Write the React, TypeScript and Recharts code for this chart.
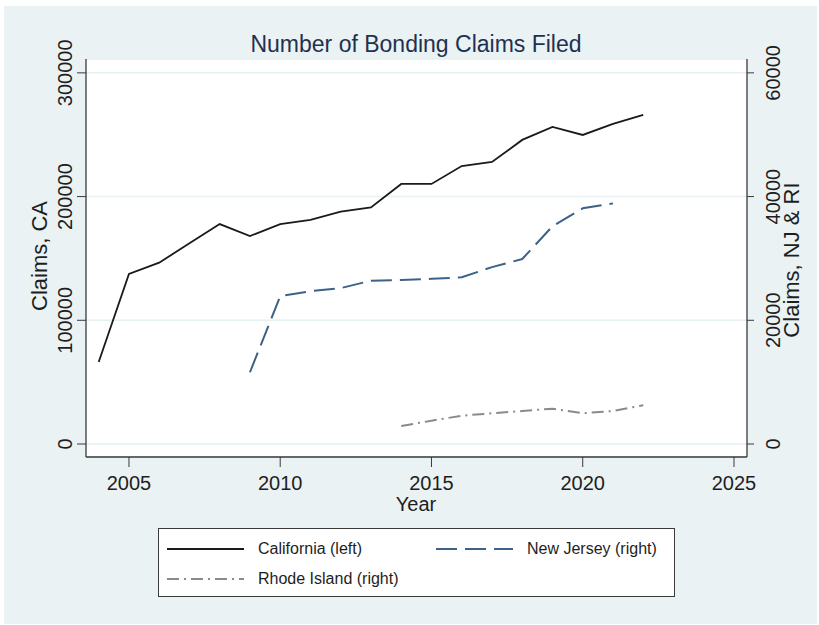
import React from 'react';
import { LineChart, Line, XAxis, YAxis, CartesianGrid } from 'recharts';

// values
const years = [2004, 2005, 2006, 2007, 2008, 2009, 2010, 2011, 2012, 2013, 2014, 2015, 2016, 2017, 2018, 2019, 2020, 2021, 2022];
const californiaClaims = [66300, 137400, 146600, 162200, 177800, 168100, 177800, 181100, 187800, 191300, 210200, 210200, 224700, 228000, 245800, 256300, 249800, 258700, 266000];

const njYears = [2009, 2010, 2011, 2012, 2013, 2014, 2015, 2016, 2017, 2018, 2019, 2020, 2021];
const newJerseyClaims = [11600, 23900, 24700, 25200, 26400, 26500, 26700, 26950, 28600, 29900, 35200, 38100, 38900];

const riYears = [2014, 2015, 2016, 2017, 2018, 2019, 2020, 2021, 2022];
const rhodeIslandClaims = [2900, 3770, 4580, 4970, 5340, 5710, 4970, 5340, 6260];

const xTicks = [2005, 2010, 2015, 2020, 2025];
const leftTicks = [0, 100000, 200000, 300000];
const rightTicks = [0, 20000, 40000, 60000];

const FONT = '"Liberation Sans", Arial, Helvetica, sans-serif';
const BG = '#eaf2f3';
const AXIS = '#3a3a3a';
const TEXT = '#1e1e1e';

const CA_COLOR = '#1a1a1a';
const NJ_COLOR = '#3c6288';
const RI_COLOR = '#8a8a8a';
const NJ_DASH = '21 8';
const RI_DASH = '12 5 2 5';

const rows = years.map((year, i) => {
  const nj = njYears.indexOf(year);
  const ri = riYears.indexOf(year);
  return {
    year,
    ca: californiaClaims[i],
    nj: nj >= 0 ? newJerseyClaims[nj] : null,
    ri: ri >= 0 ? rhodeIslandClaims[ri] : null,
  };
});

const LeftTick = (props: any) => {
  const { x, y, payload } = props;
  return (
    <text x={x} y={y} transform={`rotate(-90 ${x} ${y})`} textAnchor="middle"
      fontSize={20} fontFamily={FONT} fill={TEXT}>
      {payload.value}
    </text>
  );
};

const RightTick = (props: any) => {
  const { x, y, payload } = props;
  const bx = x + 15;
  return (
    <text x={bx} y={y} transform={`rotate(-90 ${bx} ${y})`} textAnchor="middle"
      fontSize={20} fontFamily={FONT} fill={TEXT}>
      {payload.value}
    </text>
  );
};

const legendItems = [
  { label: 'California (left)', color: CA_COLOR, dash: undefined, left: 8, top: 20 },
  { label: 'New Jersey (right)', color: NJ_COLOR, dash: NJ_DASH, left: 277, top: 20 },
  { label: 'Rhode Island (right)', color: RI_COLOR, dash: RI_DASH, left: 8, top: 50 },
];

const abs = (extra: React.CSSProperties): React.CSSProperties => ({
  position: 'absolute',
  fontFamily: FONT,
  color: TEXT,
  whiteSpace: 'nowrap',
  lineHeight: 1,
  ...extra,
});

export default function App() {
  return (
    <div style={{ position: 'absolute', left: 0, top: 0, width: 819, height: 625, background: '#ffffff', overflow: 'hidden' }}>
      <div style={{ position: 'absolute', left: 4, top: 6, width: 813, height: 618, background: BG }} />

      <div style={abs({ left: 416, top: 44, fontSize: 23, color: '#1f3150', transform: 'translate(-50%, -50%)' })}>
        Number of Bonding Claims Filed
      </div>

      <div style={{ position: 'absolute', left: 0, top: 0 }}>
        <LineChart width={819} height={625} data={rows}
          margin={{ top: 59, right: 12, bottom: 128, left: 26 }}>
          <CartesianGrid yAxisId="left" vertical={false} stroke="#e6eff1" strokeWidth={1.5}
            fill="#ffffff" fillOpacity={1} />
          <XAxis dataKey="year" type="number" domain={[2003.58, 2025.43]} ticks={xTicks}
            interval={0} height={40} tickSize={10} tickMargin={9}
            stroke={AXIS} tick={{ fontSize: 20, fontFamily: FONT, fill: TEXT }}
            tickLine={{ stroke: AXIS }} axisLine={{ stroke: AXIS, strokeWidth: 1.3 }} />
          <YAxis yAxisId="left" domain={[-10500, 311200]} ticks={leftTicks} interval={0}
            width={60} tickSize={9} tickMargin={5} tick={<LeftTick />}
            tickLine={{ stroke: AXIS }} axisLine={{ stroke: AXIS, strokeWidth: 1.3 }} />
          <YAxis yAxisId="right" orientation="right" domain={[-2100, 62240]} ticks={rightTicks}
            interval={0} width={60} tickSize={7} tickMargin={11} tick={<RightTick />}
            tickLine={{ stroke: AXIS }} axisLine={{ stroke: AXIS, strokeWidth: 1.3 }} />
          <Line yAxisId="left" dataKey="ca" stroke={CA_COLOR} strokeWidth={1.8} dot={false}
            type="linear" isAnimationActive={false} />
          <Line yAxisId="right" dataKey="nj" stroke={NJ_COLOR} strokeWidth={2} strokeDasharray={NJ_DASH}
            dot={false} type="linear" isAnimationActive={false} />
          <Line yAxisId="right" dataKey="ri" stroke={RI_COLOR} strokeWidth={2} strokeDasharray={RI_DASH}
            dot={false} type="linear" isAnimationActive={false} />
        </LineChart>
      </div>

      <div style={abs({ left: 40, top: 256, fontSize: 22, transform: 'translate(-50%, -50%) rotate(-90deg)' })}>
        Claims, CA
      </div>
      <div style={abs({ left: 792, top: 260, fontSize: 22, transform: 'translate(-50%, -50%) rotate(-90deg)' })}>
        Claims, NJ &amp; RI
      </div>
      <div style={abs({ left: 416, top: 504, fontSize: 20, transform: 'translate(-50%, -50%)' })}>
        Year
      </div>

      <div style={{ position: 'absolute', left: 158, top: 528, width: 515, height: 67, border: `1.5px solid ${AXIS}`, background: '#ffffff' }}>
        {legendItems.map((item) => (
          <div key={item.label}>
            <svg style={{ position: 'absolute', left: item.left, top: item.top - 4 }} width={78} height={8}>
              <line x1={0} y1={4} x2={77} y2={4} stroke={item.color} strokeWidth={2}
                strokeDasharray={item.dash} />
            </svg>
            <div style={abs({ left: item.left + 91, top: item.top, fontSize: 16, transform: 'translateY(-50%)' })}>
              {item.label}
            </div>
          </div>
        ))}
      </div>
    </div>
  );
}
